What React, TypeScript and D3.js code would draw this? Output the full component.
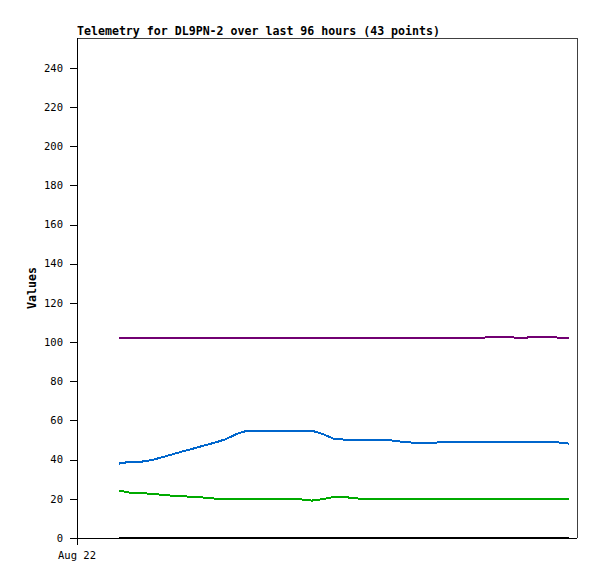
import React from 'react';
import * as d3 from 'd3';

// hours after Aug 22 00:00
const hours = [
  8.1, 10.1, 12.2, 14.2, 16.3, 18.3, 20.4, 22.5, 24.5, 26.6,
  28.6, 30.7, 32.7, 34.8, 36.9, 38.9, 41.0, 43.0, 45.1, 47.1,
  49.2, 51.3, 53.3, 55.4, 57.4, 59.5, 61.5, 63.6, 65.7, 67.7,
  69.8, 71.8, 73.9, 75.9, 78.0, 80.1, 82.1, 84.2, 86.2, 88.3,
  90.3, 92.4, 94.4,
];

const purpleValues = [
  102.3, 102.3, 102.3, 102.3, 102.3, 102.3, 102.3, 102.3, 102.3, 102.3,
  102.3, 102.3, 102.3, 102.3, 102.3, 102.3, 102.3, 102.3, 102.3, 102.3,
  102.3, 102.3, 102.3, 102.3, 102.3, 102.3, 102.3, 102.3, 102.3, 102.3,
  102.3, 102.3, 102.3, 102.3, 102.3, 102.8, 102.8, 102.3, 102.3, 102.8,
  102.8, 102.3, 102.3,
];

const blueValues = [
  38.0, 38.9, 38.9, 39.7, 41.2, 42.7, 44.3, 45.8, 47.3, 48.8,
  50.5, 53.2, 54.8, 54.8, 54.8, 54.8, 54.8, 54.8, 54.8, 53.2,
  50.8, 50.2, 50.2, 50.2, 50.2, 50.2, 49.4, 48.9, 48.4, 48.5,
  48.9, 49.2, 49.2, 49.2, 49.2, 49.2, 49.2, 49.2, 49.2, 49.2,
  49.2, 48.8, 48.2,
];

const greenValues = [
  24.2, 23.2, 23.1, 22.5, 22.1, 21.6, 21.3, 21.0, 20.6, 20.1,
  20.1, 20.1, 20.1, 20.1, 20.1, 20.1, 20.1, 19.7, 19.1, 19.8,
  20.9, 21.0, 20.2, 20.1, 20.1, 20.1, 20.1, 20.1, 20.1, 20.1,
  20.1, 20.1, 20.1, 20.1, 20.1, 20.1, 20.1, 20.1, 20.1, 20.1,
  20.1, 20.1, 20.1,
];

const blackValues = [
  0, 0, 0, 0, 0, 0, 0, 0, 0, 0,
  0, 0, 0, 0, 0, 0, 0, 0, 0, 0,
  0, 0, 0, 0, 0, 0, 0, 0, 0, 0,
  0, 0, 0, 0, 0, 0, 0, 0, 0, 0,
  0, 0, 0,
];

const yTicks = [0, 20, 40, 60, 80, 100, 120, 140, 160, 180, 200, 220, 240];
const xTickLabel = 'Aug 22';
const title = 'Telemetry for DL9PN-2 over last 96 hours (43 points)';

const series = [
  { values: purpleValues, color: '#720072' },
  { values: blueValues, color: '#0066cc' },
  { values: greenValues, color: '#00aa00' },
  { values: blackValues, color: '#000000' },
];

const W = 597;
const H = 579;
const margin = { top: 38, right: 20, bottom: 41, left: 77 };

export default function App() {
  const x = d3.scaleLinear().domain([0, 96]).range([margin.left, W - margin.right]);
  const y = d3.scaleLinear().domain([0, 255.3]).range([H - margin.bottom, margin.top]);
  const x0 = margin.left;
  const x1 = W - margin.right;
  const y0 = H - margin.bottom;
  const y1 = margin.top;

  const line = d3.line<number>()
    .x((_, i) => x(hours[i]))
    .y(d => y(d));

  const mono = '"DejaVu Sans Mono", "Liberation Mono", monospace';

  return (
    <svg width={W} height={H} style={{ position: 'absolute', left: 0, top: 0, background: '#fff' }}>
      <rect x={0} y={0} width={W} height={H} fill="#fff" />
      <text x={x0} y={35} fontFamily={mono} fontWeight="bold" fontSize={11.6} fill="#000">{title}</text>

      {/* frame */}
      <line x1={x0} y1={y1 + 0.5} x2={x1 + 0.5} y2={y1 + 0.5} stroke="#404040" />
      <line x1={x1 + 0.5} y1={y1} x2={x1 + 0.5} y2={y0} stroke="#404040" />

      {series.map((s, k) => (
        <path key={k} d={line(s.values) || ''} fill="none" stroke={s.color} strokeWidth={2} shapeRendering="crispEdges" />
      ))}

      {/* axes */}
      <line x1={x0 + 0.5} y1={y1} x2={x0 + 0.5} y2={y0 + 7} stroke="#000" />
      <line x1={x0 - 7} y1={y0 + 0.5} x2={x1} y2={y0 + 0.5} stroke="#000" />
      {yTicks.map(t => (
        <g key={t}>
          <line x1={x0 - 7} x2={x0} y1={Math.round(y(t)) + 0.5} y2={Math.round(y(t)) + 0.5} stroke="#000" />
          <text x={63} y={y(t)} dy="0.35em" textAnchor="end" fontFamily={mono} fontSize={10.5} fill="#000">{t}</text>
        </g>
      ))}
      <text x={x(0)} y={559} textAnchor="middle" fontFamily={mono} fontSize={10.5} fill="#000">{xTickLabel}</text>
      <text transform={`translate(36, ${(y0 + y1) / 2}) rotate(-90)`} textAnchor="middle" fontFamily={mono} fontWeight="bold" fontSize={11.6} fill="#000">Values</text>
    </svg>
  );
}
